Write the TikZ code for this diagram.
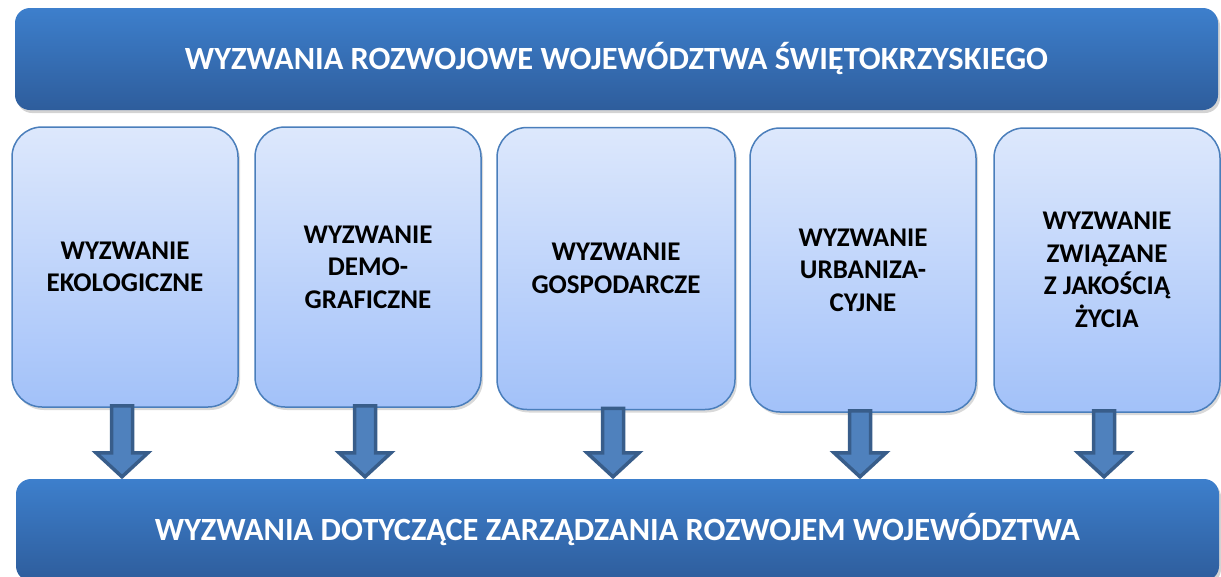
\documentclass[tikz,border=0pt]{standalone}
\usepackage{fontspec}
\setmainfont{Carlito}
\usetikzlibrary{shadows,calc}
\definecolor{barTop}{HTML}{3D7FCC}
\definecolor{barBot}{HTML}{2E5D9C}
\definecolor{boxTop}{HTML}{DDE8FC}
\definecolor{boxBot}{HTML}{A2C1F9}
\definecolor{boxLine}{HTML}{4A7EBB}
\definecolor{arrFill}{HTML}{4F81BD}
\definecolor{arrLine}{HTML}{385D8A}
\tikzset{
  bar/.style={rectangle, rounded corners=15pt, top color=barTop, bottom color=barBot,
    draw=none, minimum width=1203pt, minimum height=102pt, inner sep=0pt,
    text=white, font=\fontsize{32.4}{38}\selectfont\bfseries,
    drop shadow={shadow xshift=2pt, shadow yshift=-3pt, opacity=0.35}},
  chal/.style={rectangle, rounded corners=30pt, top color=boxTop, bottom color=boxBot,
    draw=boxLine, line width=1.5pt, minimum width=226pt, minimum height=280pt, inner sep=0pt,
    align=center, font=\fontsize{27}{32.5}\selectfont\bfseries,
    drop shadow={shadow xshift=2pt, shadow yshift=-3pt, opacity=0.3}},
  blockarrow/.style={fill=arrFill, draw=arrLine, line width=3.5pt, line join=miter}
}
\begin{document}
\begin{tikzpicture}[x=1pt,y=-1pt]
\useasboundingbox (0,0) rectangle (1221,576);
\clip (0,0) rectangle (1221,576);
\node[bar] (top) at (616.5,59) {WYZWANIA ROZWOJOWE WOJEWÓDZTWA ŚWIĘTOKRZYSKIEGO};
\node[bar] (bot) at (617.5,530) {WYZWANIA DOTYCZĄCE ZARZĄDZANIA ROZWOJEM WOJEWÓDZTWA};
\node[chal] (b1) at (125,267) {WYZWANIE\\EKOLOGICZNE};
\node[chal] (b2) at (368,267) {WYZWANIE\\DEMO-\\GRAFICZNE};
\node[chal, minimum width=238pt, minimum height=282pt] (b3) at (616,268.5) {WYZWANIE\\GOSPODARCZE};
\node[chal, minimum height=284pt] (b4) at (863,270) {WYZWANIE\\URBANIZA-\\CYJNE};
\node[chal, minimum height=284pt] (b5) at (1107,270) {WYZWANIE\\ZWIĄZANE\\Z JAKOŚCIĄ\\ŻYCIA};
\foreach \i in {1,...,5}{
  \coordinate (s\i) at ($(b\i.south)+(-3,-2)$);
  \coordinate (t\i) at (s\i |- bot.north);
  \draw[blockarrow] ($(s\i)+(-10.5,0)$) -- ($(t\i)+(-10.5,-26)$) -- ($(t\i)+(-26,-26)$)
    -- ($(t\i)+(0,-2)$) -- ($(t\i)+(26,-26)$) -- ($(t\i)+(10.5,-26)$) -- ($(s\i)+(10.5,0)$) -- cycle;
}
\end{tikzpicture}
\end{document}
